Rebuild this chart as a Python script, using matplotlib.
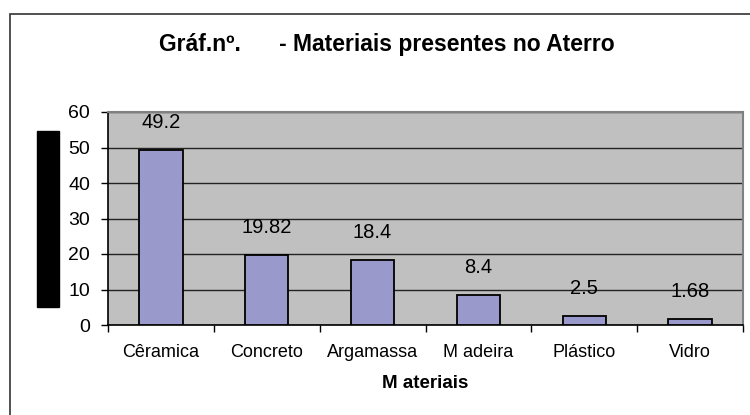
import numpy as np
import matplotlib.pyplot as plt
from matplotlib.patches import Rectangle

plt.rcParams['font.family'] = ['Liberation Sans', 'DejaVu Sans']

# Dados
materiais = ["Cêramica", "Concreto", "Argamassa", "M adeira", "Plástico", "Vidro"]
valores = [49.2, 19.82, 18.4, 8.4, 2.5, 1.68]
rotulos = ["49.2", "19.82", "18.4", "8.4", "2.5", "1.68"]

W, H = 750, 415
fig = plt.figure(figsize=(W / 100, H / 100), dpi=100)
fig.patch.set_facecolor('white')

# moldura externa do gráfico
fig.patches.append(Rectangle((10 / W, -0.05), 1.2, 1 - 14 / H + 0.05,
                             transform=fig.transFigure, fill=False,
                             edgecolor='#333333', linewidth=1.2))

ax = fig.add_axes([108 / W, 1 - 325 / H, (743 - 108) / W, (325 - 112) / H])
ax.set_facecolor('#C0C0C0')

x = np.arange(len(materiais))
ax.bar(x, valores, width=0.41, color='#9999CC', edgecolor='black', linewidth=1.3, zorder=3)
for xi, v, r in zip(x, valores, rotulos):
    ax.annotate(r, (xi, v), xytext=(0, 13), textcoords='offset points',
                ha='center', va='bottom', fontsize=14.5)

ax.set_xlim(-0.5, len(materiais) - 0.5)
ax.set_ylim(0, 60)
ax.set_yticks(range(0, 61, 10))
ax.tick_params(axis='y', labelsize=14, length=5, width=1, pad=8)
ax.yaxis.grid(True, color='#222222', linewidth=1)
ax.set_axisbelow(True)

ax.set_xticks(x)
ax.set_xticklabels(materiais, fontsize=13)
ax.tick_params(axis='x', length=0, pad=14)
ax.set_xticks(np.arange(-0.5, len(materiais), 1), minor=True)
ax.tick_params(axis='x', which='minor', length=5, width=1)

for s in ['left', 'bottom']:
    ax.spines[s].set_color('black')
    ax.spines[s].set_linewidth(1.2)
for s in ['top', 'right']:
    ax.spines[s].set_color('#808080')
    ax.spines[s].set_linewidth(1.5)

ax.set_xlabel("M ateriais", fontsize=13.5, fontweight='bold', labelpad=10)

fig.text(387 / W, 1 - 44 / H, "Gráf.nº.      - Materiais presentes no Aterro",
         ha='center', va='center', fontsize=16.5, fontweight='bold')

# rótulo do eixo y aparece como bloco preto no original
fig.patches.append(Rectangle((37 / W, 1 - 307 / H), 22 / W, 176 / H,
                             transform=fig.transFigure, color='black'))

plt.savefig('out.png', dpi=100)
